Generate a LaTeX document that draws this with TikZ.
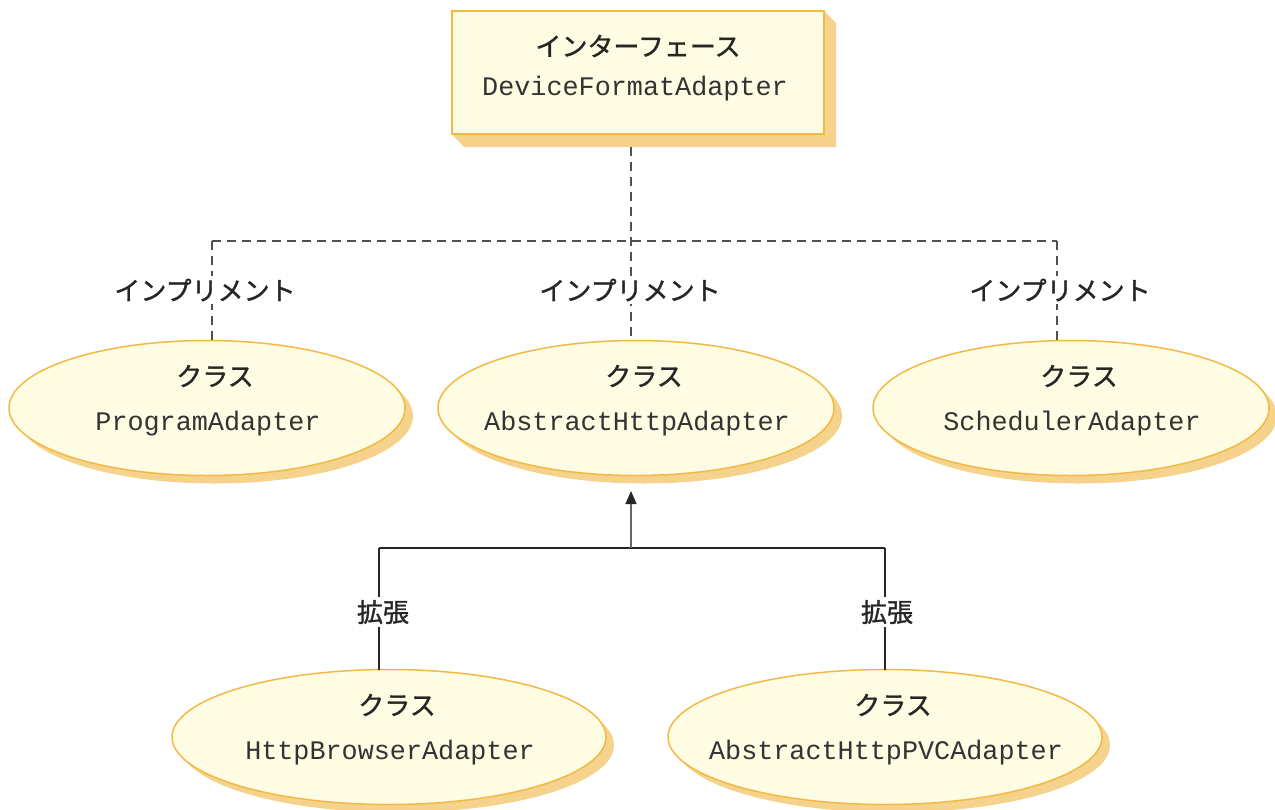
\documentclass[tikz,border=0pt]{standalone}
\usepackage{fontspec}
\newfontfamily\jp{Noto Sans CJK JP}[FakeBold=1.2]
\setmonofont{Liberation Mono}
\usetikzlibrary{shapes.geometric,arrows.meta,shadows}
\definecolor{boxfill}{HTML}{FFFCE4}
\definecolor{boxline}{HTML}{F2BA45}
\definecolor{shadowc}{HTML}{F5D38C}
\definecolor{dashc}{HTML}{505050}
\tikzset{
  clsell/.style={ellipse, draw=boxline, line width=1.5pt, fill=boxfill, inner sep=0pt,
     minimum width=396pt, minimum height=135pt,
     drop shadow={shadow xshift=8pt, shadow yshift=-8pt, fill=shadowc, opacity=1}},
  jtxt/.style={font=\jp\fontsize{26}{30}\selectfont, text=black!85, inner sep=2pt},
  mtxt/.style={font=\ttfamily\fontsize{26.8}{30}\selectfont, text=black!80, inner sep=0pt},
  lbl/.style={font=\jp\fontsize{26}{30}\selectfont, text=black!85, fill=white, inner sep=3pt},
  impl/.style={draw=dashc, line width=1.4pt, dash pattern=on 9pt off 6pt},
  ext/.style={draw=black!85, line width=1.3pt},
}
\begin{document}
\begin{tikzpicture}[x=1pt,y=-1pt]
\useasboundingbox (0,0) rectangle (1275,809);
% interface box with 3D shadow
\fill[shadowc] (824,11) -- (836,23) -- (836,147) -- (464,147) -- (452,134) -- cycle;
\node[draw=boxline, line width=1.5pt, fill=boxfill, minimum width=372pt, minimum height=123pt, inner sep=0pt] (iface) at (638,72.5) {};
\node[jtxt] (ifl) at (638,46) {インターフェース};
\node[mtxt] (ifn) at (635,89) {DeviceFormatAdapter};

% class ellipses
\node[clsell] (pa) at (207,408) {};
\node[clsell] (aha) at (636,408) {};
\node[clsell] (sa) at (1071,408) {};
\node[clsell, minimum width=434pt] (hba) at (389,737) {};
\node[clsell, minimum width=434pt] (ahp) at (885,737) {};

\foreach \n/\t in {pa/ProgramAdapter, aha/AbstractHttpAdapter, sa/SchedulerAdapter, hba/HttpBrowserAdapter, ahp/AbstractHttpPVCAdapter}{
  \node[jtxt] (\n-k) at ([xshift=8pt,yshift=32pt]\n.center) {クラス};
  \node[mtxt] (\n-n) at ([xshift=1pt,yshift=-16pt]\n.center) {\t};
}

% implements connectors
\coordinate (jt) at (631,147);
\coordinate (jm) at (631,241);
\coordinate (jl) at (212,241);
\coordinate (jr) at (1057,241);
\coordinate (el) at (212,341);
\coordinate (em) at (631,341);
\coordinate (er) at (1057,341);
\draw[impl] (jt) -- (jm) -- (em);
\draw[impl] (jl) -- (jr);
\draw[impl] (jl) -- (el);
\draw[impl] (jr) -- (er);
\node[lbl] (il) at (205,290) {インプリメント};
\node[lbl] (im) at (630,290) {インプリメント};
\node[lbl] (ir) at (1060,290) {インプリメント};

% extends connectors
\coordinate (xa) at (631,491);
\coordinate (xm) at (631,548);
\coordinate (xl) at (379,548);
\coordinate (xr) at (885,548);
\coordinate (bl) at (379,670);
\coordinate (br) at (885,670);
\draw[ext] (xl) -- (xr);
\draw[ext] (xl) -- (bl);
\draw[ext] (xr) -- (br);
\draw[ext, draw=black!60, -{Triangle[length=13pt,width=11pt,color=black!85]}] (xm) -- (xa);
\node[lbl] (el1) at (383,612) {拡張};
\node[lbl] (el2) at (887,612) {拡張};
\end{tikzpicture}
\end{document}
